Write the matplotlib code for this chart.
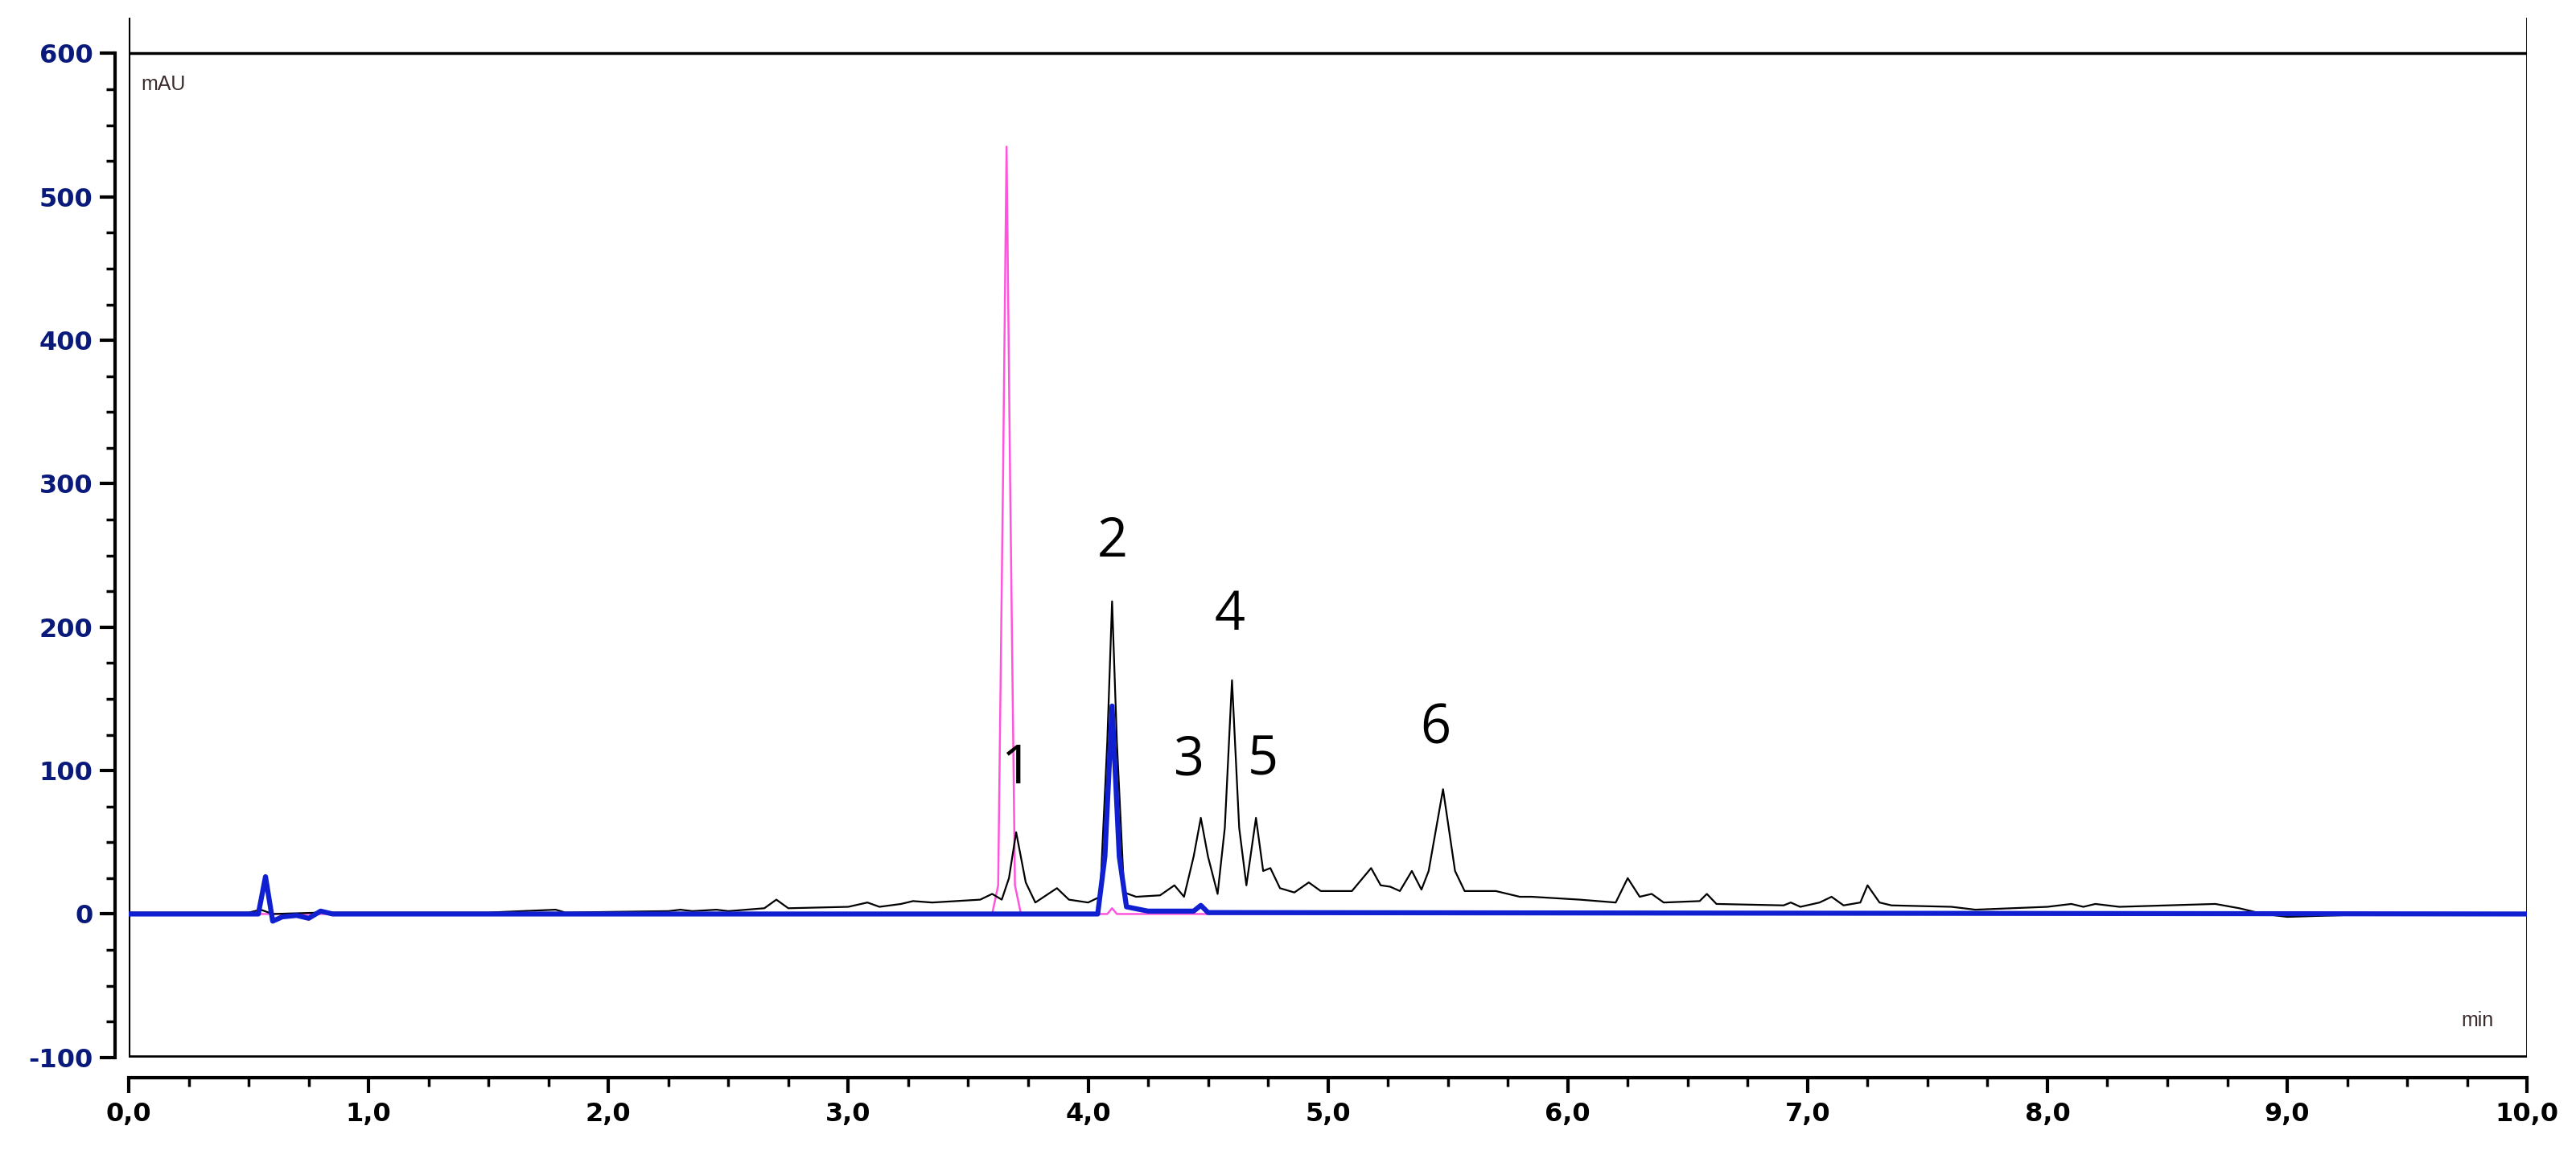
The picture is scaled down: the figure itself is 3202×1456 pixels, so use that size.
import matplotlib
matplotlib.use("Agg")
import matplotlib.pyplot as plt
from matplotlib.ticker import MultipleLocator, FixedLocator, FuncFormatter

# sample trace (black)
black_t = [0.0, 0.5, 0.55, 0.6, 0.8, 1.5, 1.78, 1.82, 2.25, 2.3, 2.35, 2.45, 2.5, 2.65, 2.7, 2.75,
           3.0, 3.08, 3.13, 3.22, 3.27, 3.35, 3.45, 3.55, 3.6, 3.64, 3.67, 3.7, 3.74, 3.78, 3.87, 3.92,
           4.0, 4.05, 4.08, 4.1, 4.12, 4.15, 4.2, 4.3, 4.36, 4.4, 4.44, 4.47, 4.5, 4.54, 4.57, 4.6,
           4.63, 4.66, 4.7, 4.73, 4.76, 4.8, 4.86, 4.92, 4.97, 5.1, 5.18, 5.22, 5.26, 5.3, 5.35, 5.39,
           5.42, 5.48, 5.53, 5.57, 5.7, 5.8, 5.85, 5.95, 6.05, 6.2, 6.25, 6.3, 6.35, 6.4, 6.55, 6.58,
           6.62, 6.9, 6.93, 6.97, 7.05, 7.1, 7.15, 7.22, 7.25, 7.3, 7.35, 7.6, 7.7, 8.0, 8.1, 8.15,
           8.2, 8.3, 8.7, 8.8, 8.9, 9.0, 9.2, 9.4, 10.0]
black_y = [1, 1, 3, 0, 1, 1, 3, 1, 2, 3, 2, 3, 2, 4, 10, 4,
           5, 8, 5, 7, 9, 8, 9, 10, 14, 10, 25, 57, 22, 8, 18, 10,
           8, 12, 120, 218, 120, 15, 12, 13, 20, 12, 40, 67, 40, 14, 60, 163,
           60, 20, 67, 30, 32, 18, 15, 22, 16, 16, 32, 20, 19, 16, 30, 17,
           30, 87, 30, 16, 16, 12, 12, 11, 10, 8, 25, 12, 14, 8, 9, 14,
           7, 6, 8, 5, 8, 12, 6, 8, 20, 8, 6, 5, 3, 5, 7, 5,
           7, 5, 7, 4, 0, -2, -1, 0, 0]

# standard trace (magenta)
pink_t = [0.0, 3.60, 3.625, 3.645, 3.66, 3.675, 3.695, 3.72, 4.08, 4.1, 4.12, 10.0]
pink_y = [0, 0, 20, 300, 535, 300, 20, 0, 0, 4, 0, 0]

# second channel (blue)
blue_t = [0.0, 0.54, 0.57, 0.6, 0.64, 0.7, 0.75, 0.8, 0.85, 4.04, 4.07, 4.1, 4.13, 4.16, 4.25,
          4.44, 4.47, 4.5, 10.0]
blue_y = [0, 0, 26, -5, -2, -1, -3, 2, 0, 0, 40, 145, 40, 5, 2, 2, 6, 1, 0]

peak_labels = ["1", "2", "3", "4", "5", "6"]
label_x = [3.70, 4.10, 4.42, 4.59, 4.73, 5.45]
label_y = [82, 240, 88, 189, 88, 110]

navy = "#0a1a7a"
fig = plt.figure(figsize=(32.02, 14.56), dpi=100)
ax = fig.add_axes([0.050, 0.097, 0.931, 0.888])

ax.plot(black_t, black_y, color="black", lw=1.6, zorder=3)
ax.plot(pink_t, pink_y, color="#ff55dd", lw=1.8, zorder=2)
ax.plot(blue_t, blue_y, color="#1020d0", lw=4.5, zorder=4)

for s, x, y in zip(peak_labels, label_x, label_y):
    ax.text(x, y, s, fontsize=48, family="Open Sans", ha="center", va="bottom")

ax.set_xlim(0, 10)
ax.set_ylim(-100, 625)
ax.axhline(600, color="black", lw=2.5)
ax.axhline(-100, color="black", lw=4)
ax.axvline(0, color="black", lw=3)
ax.axvline(10, color="black", lw=2)

for sp in ["top", "right"]:
    ax.spines[sp].set_visible(False)
ax.spines["left"].set_position(("outward", 12))
ax.spines["bottom"].set_position(("outward", 18))
ax.spines["left"].set_linewidth(3)
ax.spines["bottom"].set_linewidth(3)
ax.spines["left"].set_bounds(-100, 600)

ax.xaxis.set_major_locator(MultipleLocator(1))
ax.xaxis.set_minor_locator(MultipleLocator(0.25))
ax.yaxis.set_major_locator(FixedLocator(list(range(-100, 601, 100))))
ax.yaxis.set_minor_locator(FixedLocator(list(range(-75, 600, 25))))
ax.xaxis.set_major_formatter(FuncFormatter(lambda v, p: f"{v:.1f}".replace(".", ",")))
ax.yaxis.set_major_formatter(FuncFormatter(lambda v, p: f"{v:.0f}"))
ax.tick_params(axis="both", which="major", length=14, width=3)
ax.tick_params(axis="both", which="minor", length=8, width=2.5)
ax.tick_params(axis="y", labelsize=23, labelcolor=navy, pad=6)
ax.tick_params(axis="x", labelsize=23, labelcolor="black", pad=8)
for lab in ax.get_xticklabels() + ax.get_yticklabels():
    lab.set_fontweight("bold")
    lab.set_family("Liberation Sans Narrow")

ax.text(0.05, 585, "mAU", fontsize=18, color="#3a2a2a", va="top", family="Liberation Sans")
ax.text(9.86, -78, "min", fontsize=18, color="#3a2a2a", ha="right", family="Liberation Sans")

fig.savefig("out.png", dpi=100)
